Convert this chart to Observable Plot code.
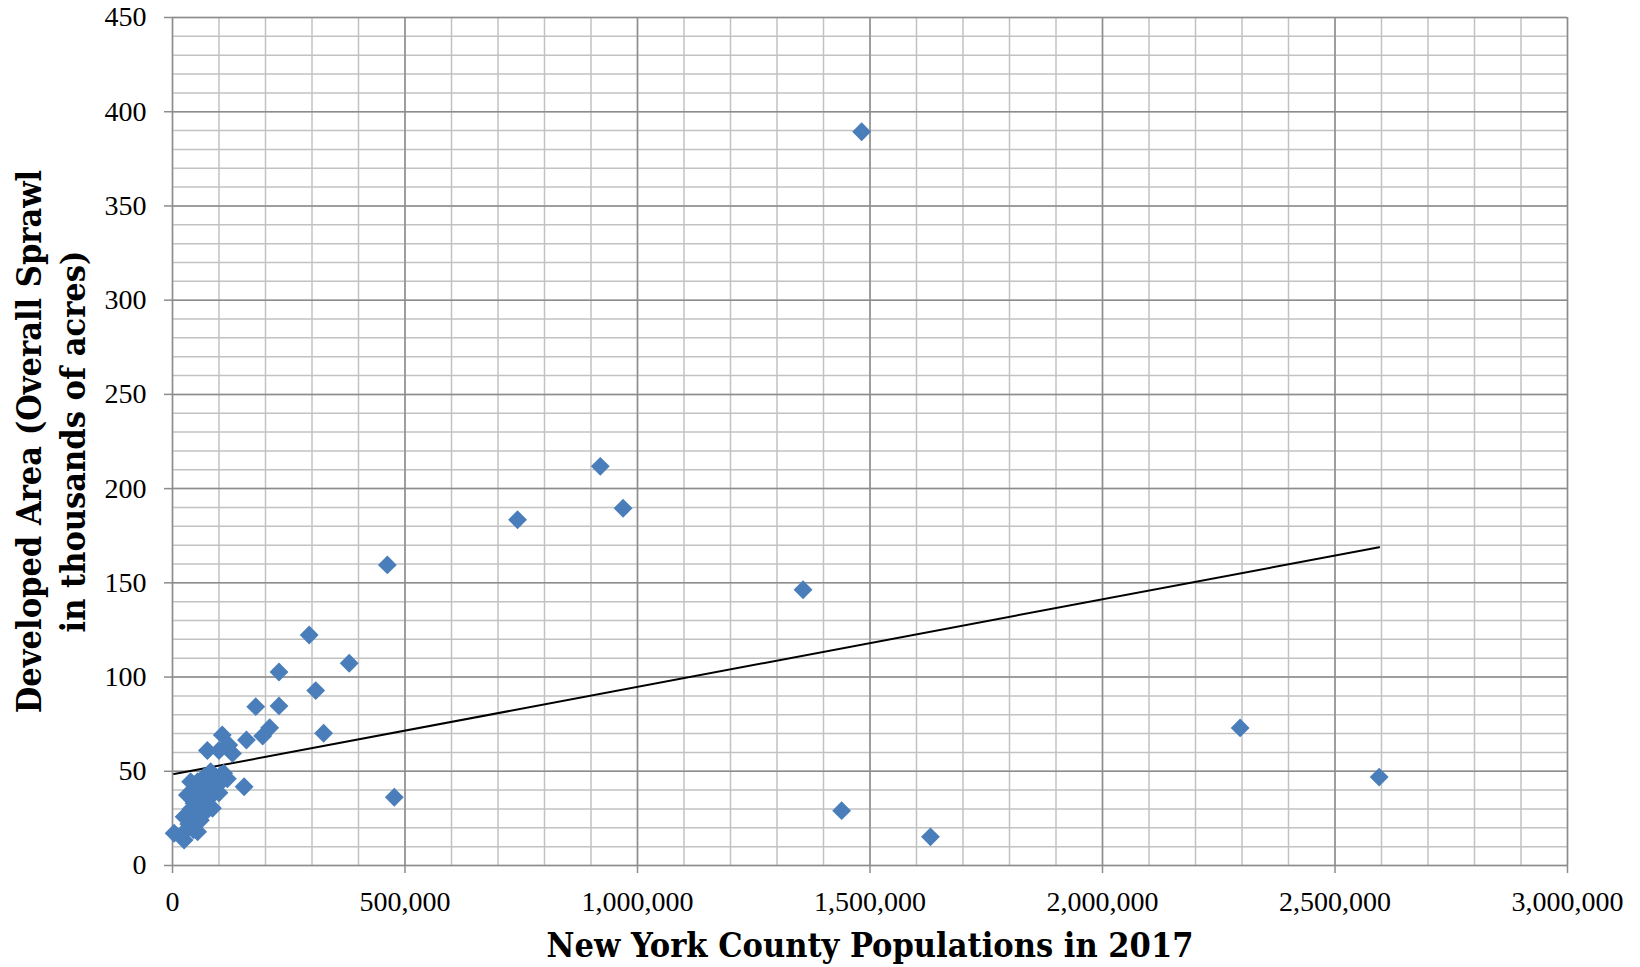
<!DOCTYPE html>
<html>
<head>
<meta charset="utf-8">
<script src="https://cdn.jsdelivr.net/npm/d3@7"></script>
<script src="https://cdn.jsdelivr.net/npm/@observablehq/plot@0.6"></script>
<style>
  html, body { margin: 0; padding: 0; background: #ffffff; }
  #chart svg { display: block; }
</style>
</head>
<body>
<div id="chart"></div>
<script>
// County population in 2017 (x) and developed area in thousands of acres (y)
const population = [
  2595000, 2296000, 1630000, 1482000, 1439000, 1356000, 969000, 920000, 742000, 477000, 462000,
  380000, 325000, 308000, 294000, 229000, 229000, 209000, 194000, 179000, 159000, 154000,
  129000, 117000, 107000, 100000, 75000, 121000, 104000, 82000, 89000, 54000, 39000, 118000,
  68000, 100000, 32000, 61000, 86000, 46500, 25000, 43000, 3500, 25000, 54000, 68000,
  93000, 110000, 72000, 80000, 58000, 48000, 64000, 50000, 40000, 35000, 60000, 45000,
  30000, 76000, 95000, 52000
];
const developed = [
  46.9, 73.0, 15.2, 389.4, 29.1, 146.3, 189.6, 211.8, 183.5, 36.2, 159.5,
  107.3, 70.2, 92.8, 122.3, 102.7, 84.7, 73.1, 68.7, 84.3, 66.6, 41.8,
  59.5, 63, 69.3, 61, 61, 64, 48, 49.8, 44.5, 44.5, 44.5, 46,
  47, 38.6, 37.4, 38.3, 30.4, 33, 25.9, 24.2, 17.1, 13.5, 17.9, 27.7,
  47, 49, 42, 36, 40, 41, 34, 29, 30, 22, 24, 19,
  19, 32, 42, 36
];
// Linear trend line end points
const trendPopulation = [3500, 2595000];
const trendDeveloped = [48.5, 168.9];

// Axis ticks
const xTicks = [0, 500000, 1000000, 1500000, 2000000, 2500000, 3000000];
const yTicks = [0, 50, 100, 150, 200, 250, 300, 350, 400, 450];
const xMinorStep = 100000;
const yMinorStep = 10;

const xTitle = "New York County Populations in 2017";
const yTitle = "Developed Area (Overall Sprawl\nin thousands of acres)";

const points = population.map((p, i) => ({population: p, developed: developed[i]}));
const trend = trendPopulation.map((p, i) => ({population: p, developed: trendDeveloped[i]}));
const xMinor = d3.range(0, 3000000 + 1, xMinorStep);
const yMinor = d3.range(0, 450 + 1, yMinorStep);

const tickFont = "'Liberation Serif', 'Times New Roman', serif";
const titleFont = "'DejaVu Serif Condensed', 'Liberation Serif', serif";
const minorColor = "#c2c2c2";
const majorColor = "#8c8c8c";

const chart = Plot.plot({
  width: 1640,
  height: 967,
  marginLeft: 172,
  marginRight: 73,
  marginTop: 17,
  marginBottom: 102,
  style: {fontFamily: tickFont, background: "#ffffff", color: "#000"},
  x: {domain: [0, 3000000]},
  y: {domain: [0, 450]},
  marks: [
    Plot.ruleX(xMinor, {stroke: minorColor, strokeWidth: 1.5}),
    Plot.ruleY(yMinor, {stroke: minorColor, strokeWidth: 1.5}),
    Plot.ruleX(xTicks, {stroke: majorColor, strokeWidth: 1.5}),
    Plot.ruleY(yTicks, {stroke: majorColor, strokeWidth: 1.5}),
    Plot.axisX(xTicks, {
      tickFormat: d3.format(","), tickSize: 8, tickPadding: 18,
      stroke: majorColor, strokeWidth: 1.5, fill: "#000", fontSize: 28, label: null
    }),
    Plot.axisY(yTicks, {
      tickSize: 8, tickPadding: 18,
      stroke: majorColor, strokeWidth: 1.5, fill: "#000", fontSize: 28, label: null
    }),
    Plot.line(trend, {x: "population", y: "developed", stroke: "#000", strokeWidth: 2}),
    Plot.dot(points, {x: "population", y: "developed", symbol: "diamond2", r: 8.5, fill: "#4a7ebb", stroke: "none"}),
    Plot.text([xTitle], {
      frameAnchor: "bottom", textAnchor: "middle", lineAnchor: "middle", dy: 81,
      fontSize: 34, fontWeight: "bold", fontFamily: titleFont, fill: "#000"
    }),
    Plot.text([yTitle], {
      frameAnchor: "left", textAnchor: "middle", lineAnchor: "middle", dx: -124, rotate: -90,
      fontSize: 34, fontWeight: "bold", lineHeight: 1.3, fontFamily: titleFont, fill: "#000"
    })
  ]
});
document.getElementById("chart").appendChild(chart);
</script>
</body>
</html>
